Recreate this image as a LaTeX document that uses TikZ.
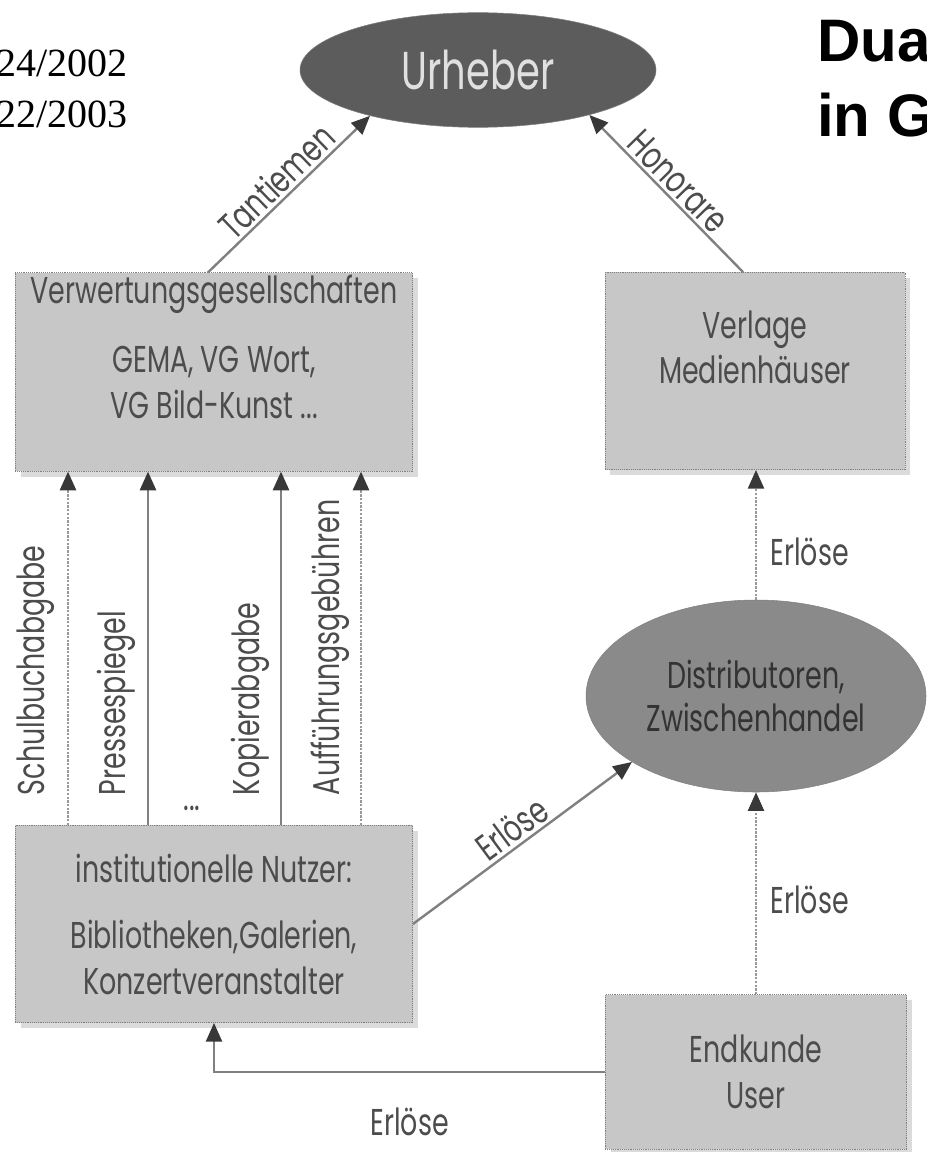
\documentclass[tikz,border=0pt]{standalone}
\usepackage{fontspec}
\setmainfont{Poppins}[FakeStretch=0.72]
\newfontfamily\datefont{Liberation Serif}
\newfontfamily\titlefont{Liberation Sans}
\usetikzlibrary{shapes.geometric,arrows.meta,shadows}
\definecolor{boxgray}{gray}{0.78}
\definecolor{ovalgray}{gray}{0.54}
\definecolor{darkoval}{gray}{0.36}
\definecolor{linegray}{gray}{0.5}
\definecolor{textgray}{gray}{0.3}

\begin{document}
\begin{tikzpicture}[x=0.75pt, y=-0.75pt,
    kasten/.style={draw=gray, densely dotted, fill=boxgray, text=textgray, align=center,
      font=\fontsize{28}{34}\selectfont, inner sep=0pt,
      drop shadow={shadow xshift=4pt, shadow yshift=-4pt, fill=black!14, opacity=1}},
    oval/.style={ellipse, draw=gray, fill=ovalgray, text=black!80, align=center,
      font=\fontsize{28}{32}\selectfont, inner sep=0pt},
    pfeil/.style={draw=linegray, line width=1.8pt, -{Triangle[length=14pt,width=12pt,color=black!78]}},
    punktpfeil/.style={pfeil, draw=black!40, densely dotted},
    beschr/.style={text=textgray, font=\fontsize{28}{30}\selectfont, inner sep=2pt}]
    \useasboundingbox (0,0) rectangle (926,1152);

    % Kopf
    \node[anchor=base west, inner sep=0pt, font=\datefont\fontsize{30}{30}\selectfont] (datum1) at (-4,77) {24/2002};
    \node[anchor=base west, inner sep=0pt, font=\datefont\fontsize{30}{30}\selectfont] (datum2) at (-4,128) {22/2003};
    \node[anchor=base west, inner sep=0pt, font=\titlefont\bfseries\fontsize{45}{45}\selectfont] (titel1) at (817,62) {Dua};
    \node[anchor=base west, inner sep=0pt, font=\titlefont\bfseries\fontsize{45}{45}\selectfont] (titel2) at (817,137) {in G};

    % Knoten
    \node[oval, fill=darkoval, text=black!12, font=\fontsize{40}{42}\selectfont,
      minimum width=267pt, minimum height=86pt] (urheber) at (478,70) {Urheber};
    \node[kasten, minimum width=298pt, minimum height=149pt] (verw) at (214,372)
      {Verwertungsgesellschaften\\[18pt] GEMA, VG Wort,\\ VG Bild-Kunst ...\\[4pt]};
    \node[kasten, minimum width=225pt, minimum height=148pt] (verlage) at (755,371)
      {Verlage\\ Medienhäuser\\[2pt]};
    \node[oval, minimum width=255pt, minimum height=144pt] (distr) at (756,696)
      {Distributoren,\\ Zwischenhandel};
    \node[kasten, minimum width=298pt, minimum height=148pt] (inst) at (214,924)
      {institutionelle Nutzer:\\[16pt] Bibliotheken,Galerien,\\ Konzertveranstalter};
    \node[kasten, minimum width=226pt, minimum height=116pt] (endk) at (756,1072)
      {Endkunde\\ User};

    % Verbindungen
    \draw[pfeil] (208,0 |- verw.north) -- node[beschr, above, sloped] {Tantiemen} (urheber.203);
    \draw[pfeil] (743,0 |- verlage.north) -- node[beschr, above, sloped] {Honorare} (urheber.-22);

    \draw[punktpfeil] (68,0 |- inst.north) -- (68,0 |- verw.south);
    \draw[pfeil] (148,0 |- inst.north) -- (148,0 |- verw.south);
    \draw[pfeil] (281,0 |- inst.north) -- (281,0 |- verw.south);
    \draw[punktpfeil] (361,0 |- inst.north) -- (361,0 |- verw.south);
    \node[beschr, rotate=90, anchor=west] (schul) at (36,798) {Schulbuchabgabe};
    \node[beschr, rotate=90, anchor=west] (presse) at (116,798) {Pressespiegel};
    \node[beschr, rotate=90, anchor=west] (kopie) at (250,798) {Kopierabgabe};
    \node[beschr, rotate=90, anchor=west] (auff) at (330,798) {Aufführungsgebühren};
    \node[beschr] (punkte) at (192,808) {...};

    \draw[pfeil] (inst.east) -- node[beschr, above, sloped] {Erlöse} (distr.208.6);
    \draw[punktpfeil] (distr.north) -- node[beschr, right=8pt, pos=0.37] {Erlöse} (distr.north |- verlage.south);
    \draw[punktpfeil] (distr.south |- endk.north) -- node[beschr, right=8pt, pos=0.47] {Erlöse} (distr.south);
    \draw[pfeil] (endk.west) -| node[beschr, below=24pt, pos=0.25] {Erlöse} (inst.south);
\end{tikzpicture}
\end{document}
